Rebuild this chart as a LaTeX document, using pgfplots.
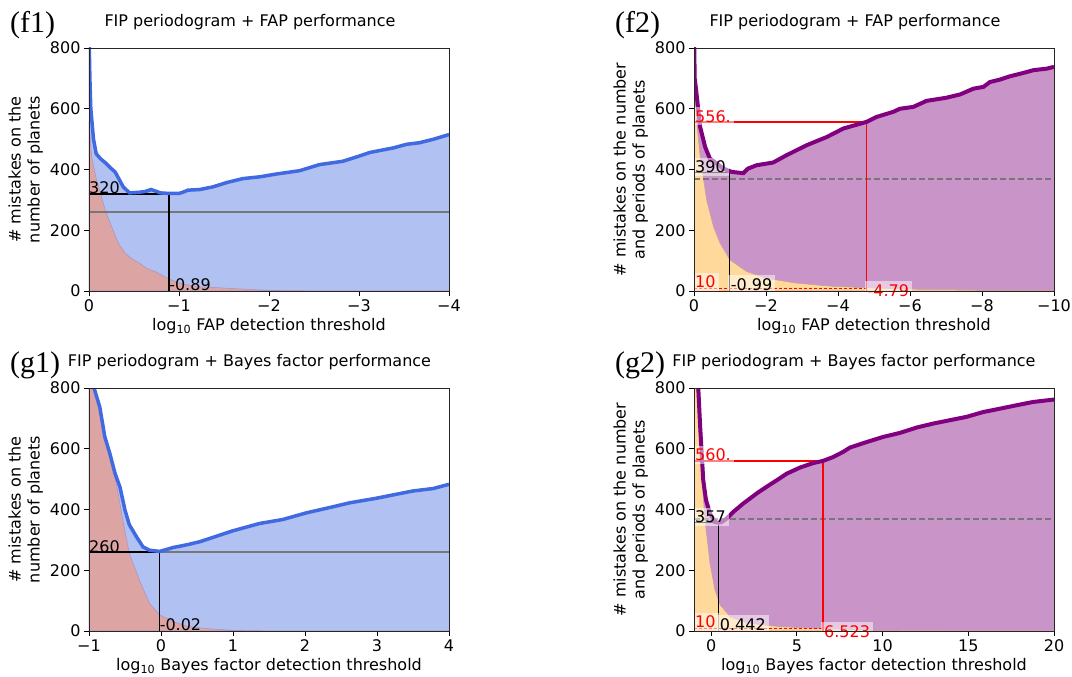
\documentclass[border=0pt]{standalone}
\usepackage{fontspec}
\setmainfont{DejaVu Sans}
\newfontfamily\seriffont{Liberation Serif}
\usepackage{pgfplots}
\pgfplotsset{compat=1.18}
\definecolor{bluefill}{HTML}{B0C1F2}
\definecolor{redfill}{HTML}{DDA4A4}
\definecolor{blueline}{HTML}{4169E1}
\definecolor{purplefill}{HTML}{C995C8}
\definecolor{orangefill}{HTML}{FED99B}
\definecolor{purpleline}{HTML}{800080}
\definecolor{redge}{HTML}{A892C0}
\definecolor{oedge}{HTML}{D09A9A}
\definecolor{refgray}{HTML}{777777}
\newcommand{\fs}{\fontsize{16}{19}\selectfont}
\pgfplotsset{
  panel/.style={
    scale only axis, width=360pt, height=243pt,
    ymin=0, ymax=800, ytick={0,200,400,600,800}, yticklabels={0,200,400,600,800},
    tick align=outside, xtick pos=left, ytick pos=left,
    major tick length=5pt,
    tick style={black, line width=0.8pt},
    axis line style={line width=0.8pt, black!85},
    ticklabel style={font=\fs},
    label style={font=\fs},
    ylabel style={align=center},
    clip mode=individual,
    axis on top,
    anchor=south west,
  },
}
\tikzset{
  lab/.style={anchor=base west, inner sep=0pt, font=\fs},
  boxlab/.style={anchor=base west, font=\fs, fill=white, fill opacity=0.5, text opacity=1, inner sep=3pt, xshift=-2pt},
}
\begin{document}
\begin{tikzpicture}
\path[use as bounding box] (0,0) rectangle (1072pt,677pt);

% ---------------- f1 ----------------
\begin{axis}[panel, at={(89pt,386pt)},
  x dir=reverse, xmin=-4, xmax=0,
  xtick={0,-1,-2,-3,-4}, xticklabels={0,−1,−2,−3,−4},
  xlabel={log\textsubscript{10} FAP detection threshold},
  ylabel={\# mistakes on the\\number of planets}]
\addplot[fill=bluefill, draw=none] coordinates {
(0,850)(-0.01,700)(-0.02,600)(-0.05,500)(-0.08,452)(-0.13,435)(-0.19,420)(-0.24,405)(-0.29,392)(-0.34,365)(-0.38,343)(-0.45,323)(-0.56,325)(-0.63,328)(-0.69,334)(-0.75,328)(-0.79,323)(-0.9,321)(-1.0,321)(-1.05,326)(-1.1,332)(-1.23,334)(-1.38,343)(-1.53,357)(-1.71,370)(-1.9,376)(-2.08,385)(-2.34,396)(-2.56,416)(-2.82,427)(-3.0,444)(-3.12,456)(-3.38,471)(-3.53,483)(-3.67,488)(-3.82,499)(-4.0,515)
} \closedcycle;
\addplot[fill=redfill, draw=redge, line width=0.5pt] coordinates {
(0,560)(-0.03,440)(-0.08,370)(-0.13,320)(-0.185,262)(-0.26,205)(-0.33,155)(-0.4,125)(-0.48,105)(-0.56,92)(-0.64,75)(-0.75,62)(-0.85,45)(-0.95,32)(-1.05,22)(-1.23,14)(-1.6,8)(-2.0,2)(-2.5,0.5)(-4,0)
} \closedcycle;
\addplot[refgray, line width=1.5pt] coordinates {(0,260)(-4,260)};
\addplot[black, line width=1.5pt] coordinates {(0,320)(-0.89,320)(-0.89,0)};
\addplot[blueline, line width=3.5pt] coordinates {
(0,850)(-0.01,700)(-0.02,600)(-0.05,500)(-0.08,452)(-0.13,435)(-0.19,420)(-0.24,405)(-0.29,392)(-0.34,365)(-0.38,343)(-0.45,323)(-0.56,325)(-0.63,328)(-0.69,334)(-0.75,328)(-0.79,323)(-0.9,321)(-1.0,321)(-1.05,326)(-1.1,332)(-1.23,334)(-1.38,343)(-1.53,357)(-1.71,370)(-1.9,376)(-2.08,385)(-2.34,396)(-2.56,416)(-2.82,427)(-3.0,444)(-3.12,456)(-3.38,471)(-3.53,483)(-3.67,488)(-3.82,499)(-4.0,515)
};
\node[lab] at (axis cs:0,320) {320};
\node[lab] at (axis cs:-0.89,3) {-0.89};
\end{axis}

% ---------------- f2 ----------------
\begin{axis}[panel, at={(694pt,386pt)},
  x dir=reverse, xmin=-10, xmax=0,
  xtick={0,-2,-4,-6,-8,-10}, xticklabels={0,−2,−4,−6,−8,−10},
  xlabel={log\textsubscript{10} FAP detection threshold},
  ylabel={\# mistakes on the number\\and periods of planets}]
\addplot[fill=purplefill, draw=none] coordinates {
(0,850)(-0.02,700)(-0.07,650)(-0.17,540)(-0.31,474)(-0.44,436)(-0.63,420)(-0.81,403)(-1.05,392)(-1.2,390)(-1.37,388)(-1.5,403)(-1.74,414)(-2.2,423)(-2.57,447)(-3.13,480)(-3.69,507)(-4.15,535)(-4.8,557)(-5.07,573)(-5.54,590)(-5.72,600)(-6.09,606)(-6.46,626)(-7.0,636)(-7.39,647)(-7.76,666)(-8.04,672)(-8.22,688)(-8.5,696)(-8.78,707)(-9.15,718)(-9.43,727)(-9.8,732)(-10,738)
} \closedcycle;
\addplot[fill=orangefill, draw=oedge, line width=0.5pt] coordinates {
(0,720)(-0.07,560)(-0.17,442)(-0.35,300)(-0.54,212)(-0.72,158)(-1.0,102)(-1.46,64)(-2.0,42)(-2.83,26)(-3.76,16)(-4.68,11)(-6,6)(-8,3)(-10,2)
} \closedcycle;
\addplot[refgray, line width=1.5pt, dash pattern=on 6pt off 3pt] coordinates {(0,368)(-10,368)};
\addplot[black, line width=1.5pt] coordinates {(0,390)(-0.99,390)(-0.99,0)};
\addplot[red, line width=1.5pt] coordinates {(0,556)(-4.79,556)(-4.79,0)};
\addplot[red, line width=0.8pt, dash pattern=on 3pt off 2pt] coordinates {(0,10)(-4.79,10)};
\addplot[purpleline, line width=4pt] coordinates {
(0,850)(-0.02,700)(-0.07,650)(-0.17,540)(-0.31,474)(-0.44,436)(-0.63,420)(-0.81,403)(-1.05,392)(-1.2,390)(-1.37,388)(-1.5,403)(-1.74,414)(-2.2,423)(-2.57,447)(-3.13,480)(-3.69,507)(-4.15,535)(-4.8,557)(-5.07,573)(-5.54,590)(-5.72,600)(-6.09,606)(-6.46,626)(-7.0,636)(-7.39,647)(-7.76,666)(-8.04,672)(-8.22,688)(-8.5,696)(-8.78,707)(-9.15,718)(-9.43,727)(-9.8,732)(-10,738)
};
\node[boxlab, text=red] at (axis cs:0,556) {556.};
\node[boxlab] at (axis cs:0,390) {390};
\node[boxlab, text=red] at (axis cs:0,10) {10};
\node[boxlab] at (axis cs:-0.99,3) {-0.99};
\node[boxlab, text=red] at (axis cs:-4.79,-17) {-4.79};
\end{axis}

% ---------------- g1 ----------------
\begin{axis}[panel, at={(89pt,46pt)},
  xmin=-1, xmax=4,
  xtick={-1,0,1,2,3,4}, xticklabels={−1,0,1,2,3,4},
  xlabel={log\textsubscript{10} Bayes factor detection threshold},
  ylabel={\# mistakes on the\\number of planets}]
\addplot[fill=bluefill, draw=none] coordinates {
(-1,950)(-0.93,800)(-0.85,737)(-0.78,639)(-0.71,584)(-0.64,520)(-0.57,474)(-0.5,398)(-0.44,350)(-0.34,310)(-0.25,277)(-0.16,266)(-0.02,262)(0.1,270)(0.17,275)(0.26,279)(0.4,286)(0.54,294)(0.77,312)(1.0,330)(1.37,354)(1.69,367)(2.02,389)(2.39,409)(2.62,422)(2.99,437)(3.18,446)(3.5,461)(3.78,469)(4.0,483)
} \closedcycle;
\addplot[fill=redfill, draw=redge, line width=0.5pt] coordinates {
(-1,900)(-0.93,800)(-0.81,683)(-0.71,573)(-0.62,485)(-0.53,365)(-0.44,255)(-0.3,168)(-0.16,91)(-0.02,53)(0.17,31)(0.35,16)(0.63,8)(1.0,2)(1.5,0.5)(4,0)
} \closedcycle;
\addplot[refgray, line width=1.5pt] coordinates {(-1,260)(4,260)};
\addplot[black, line width=1.5pt] coordinates {(-1,260)(-0.02,260)(-0.02,0)};
\addplot[blueline, line width=3.5pt] coordinates {
(-1,950)(-0.93,800)(-0.85,737)(-0.78,639)(-0.71,584)(-0.64,520)(-0.57,474)(-0.5,398)(-0.44,350)(-0.34,310)(-0.25,277)(-0.16,266)(-0.02,262)(0.1,270)(0.17,275)(0.26,279)(0.4,286)(0.54,294)(0.77,312)(1.0,330)(1.37,354)(1.69,367)(2.02,389)(2.39,409)(2.62,422)(2.99,437)(3.18,446)(3.5,461)(3.78,469)(4.0,483)
};
\node[lab] at (axis cs:-1,260) {260};
\node[lab] at (axis cs:-0.02,3) {-0.02};
\end{axis}

% ---------------- g2 ----------------
\begin{axis}[panel, at={(694pt,46pt)},
  xmin=-1, xmax=20,
  xtick={0,5,10,15,20}, xticklabels={0,5,10,15,20},
  xlabel={log\textsubscript{10} Bayes factor detection threshold},
  ylabel={\# mistakes on the number\\and periods of planets}]
\addplot[fill=purplefill, draw=none] coordinates {
(-0.8,850)(-0.75,800)(-0.65,683)(-0.55,584)(-0.46,496)(-0.3,431)(-0.07,387)(0.22,359)(0.442,357)(0.6,358)(0.9,370)(1.29,392)(1.88,420)(2.66,453)(3.24,475)(3.82,496)(4.41,518)(5.18,538)(5.96,553)(6.523,560)(7.13,573)(7.71,590)(8.1,604)(9.07,622)(10.04,639)(11.0,652)(12.0,670)(12.96,683)(13.93,694)(14.9,705)(15.88,721)(16.85,732)(17.8,743)(18.78,754)(20,762)
} \closedcycle;
\addplot[fill=orangefill, draw=oedge, line width=0.5pt] coordinates {
(-1,900)(-0.84,800)(-0.65,586)(-0.36,365)(-0.07,223)(0.22,135)(0.52,86)(1.1,47)(2.07,26)(4.0,14)(6.35,8)(9,3)(12,1)(20,0)
} \closedcycle;
\addplot[refgray, line width=1.5pt, dash pattern=on 6pt off 3pt] coordinates {(-1,368)(20,368)};
\addplot[black, line width=1.5pt] coordinates {(-1,357)(0.442,357)(0.442,0)};
\addplot[red, line width=1.5pt] coordinates {(-1,560)(6.523,560)(6.523,0)};
\addplot[red, line width=0.8pt, dash pattern=on 3pt off 2pt] coordinates {(-1,10)(6.523,10)};
\addplot[purpleline, line width=4pt] coordinates {
(-0.8,850)(-0.75,800)(-0.65,683)(-0.55,584)(-0.46,496)(-0.3,431)(-0.07,387)(0.22,359)(0.442,357)(0.6,358)(0.9,370)(1.29,392)(1.88,420)(2.66,453)(3.24,475)(3.82,496)(4.41,518)(5.18,538)(5.96,553)(6.523,560)(7.13,573)(7.71,590)(8.1,604)(9.07,622)(10.04,639)(11.0,652)(12.0,670)(12.96,683)(13.93,694)(14.9,705)(15.88,721)(16.85,732)(17.8,743)(18.78,754)(20,762)
};
\node[boxlab, text=red] at (axis cs:-1,560) {560.};
\node[boxlab] at (axis cs:-1,357) {357};
\node[boxlab, text=red] at (axis cs:-1,10) {10};
\node[boxlab] at (axis cs:0.442,3) {0.442};
\node[boxlab, text=red] at (axis cs:6.523,-20) {6.523};
\end{axis}

% titles and panel labels
\node[anchor=base, font=\fs] at (250pt,650pt) {FIP periodogram + FAP performance};
\node[anchor=base, font=\fs] at (855pt,650pt) {FIP periodogram + FAP performance};
\node[anchor=base, font=\fs] at (249.5pt,310pt) {FIP periodogram + Bayes factor performance};
\node[anchor=base, font=\fs] at (854pt,310pt) {FIP periodogram + Bayes factor performance};
\node[anchor=base west, inner sep=0pt, font=\seriffont\fontsize{30}{32}\selectfont] at (10pt,644pt) {(f1)};
\node[anchor=base west, inner sep=0pt, font=\seriffont\fontsize{30}{32}\selectfont] at (615pt,644pt) {(f2)};
\node[anchor=base west, inner sep=0pt, font=\seriffont\fontsize{30}{32}\selectfont] at (10pt,304pt) {(g1)};
\node[anchor=base west, inner sep=0pt, font=\seriffont\fontsize{30}{32}\selectfont] at (615pt,304pt) {(g2)};
\end{tikzpicture}
\end{document}
